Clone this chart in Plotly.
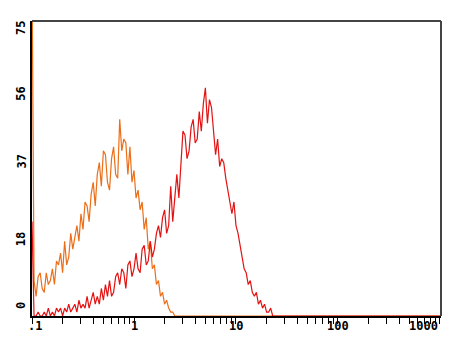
import math
import plotly.graph_objects as go

# Histogram channels: log10 start and bin width (decades)
LOG_START = -1.0
LOG_STEP = 0.02

orange_counts = [
    90,
    9, 5, 10, 11, 7, 6, 11, 8,
    9, 12, 8, 14, 13,
    16, 11, 19, 13, 15,
    21, 17, 20, 23, 19,
    26, 22, 29, 28, 24,
    31, 34, 28, 36, 39,
    33, 42, 41, 34, 32,
    40, 43, 36, 35, 50,
    42, 45, 44, 36, 43,
    34, 37, 30, 32, 27,
    29, 22, 25, 17, 19,
    12, 13, 8, 9, 5,
    6, 3, 4, 2, 1,
    1, 0,
]

red_counts = [
    24,
    0, 0, 1, 0, 0, 1, 0, 2, 0, 1, 0, 2, 1, 2, 0,
    2, 1, 3, 1, 2, 3, 1, 4, 2, 3,
    2, 5, 2, 4, 6, 3, 5,
    3, 7, 4, 8, 5,
    9, 5, 6, 10, 11,
    8, 12, 11, 7, 13,
    14, 10, 12, 16, 12,
    11, 17, 18, 13, 14,
    19, 15, 17, 21, 23,
    20, 25, 27, 21, 23,
    33, 24, 31, 36, 30,
    39, 47, 46, 40, 42,
    48, 50, 44, 45, 52,
    47, 54, 58, 49, 55,
    53, 47, 41, 45, 38,
    40, 39, 35, 32, 30,
    26, 29, 23, 21, 18,
    15, 12, 11, 8, 9,
    6, 5, 6, 3, 4,
    2, 3, 1, 1, 2,
    0, 0,
]

x_tick_vals = [0.1, 1, 10, 100, 1000]
x_tick_text = [".1", "1", "10", "100", "1000"]
y_tick_vals = [0, 18.75, 37.5, 56.25, 75]
y_tick_text = ["0", "18", "37", "56", "75"]

ORANGE = "rgb(236,110,24)"
RED = "rgb(228,18,18)"
FONT = dict(family="DejaVu Sans Mono", size=12, color="black", weight="bold")


def series_xy(counts):
    xs = [10 ** (LOG_START + i * LOG_STEP) for i in range(len(counts))]
    xs.append(1024)
    ys = list(counts) + [0]
    return xs, ys


fig = go.Figure()
ox, oy = series_xy(orange_counts)
rx, ry = series_xy(red_counts)
fig.add_trace(go.Scatter(x=ox, y=oy, mode="lines", line=dict(color=ORANGE, width=1.2, shape="linear"),
                         hoverinfo="skip"))
fig.add_trace(go.Scatter(x=rx, y=ry, mode="lines", line=dict(color=RED, width=1.2, shape="linear"),
                         hoverinfo="skip"))

minor_vals = [d * 10 ** e for e in range(-1, 3) for d in range(2, 10)]

fig.update_layout(
    width=450, height=340,
    margin=dict(l=24, r=17, t=13, b=32, autoexpand=False),
    paper_bgcolor="white", plot_bgcolor="white",
    showlegend=False,
    xaxis=dict(type="log", range=[-1, 3.01], showgrid=False, zeroline=False,
               showline=True, linecolor="black", linewidth=2,
               ticks="outside", ticklen=6, tickcolor="black", tickwidth=1,
               tickvals=x_tick_vals, showticklabels=False,
               minor=dict(tickvals=minor_vals, ticks="outside", ticklen=6,
                          tickcolor="black", tickwidth=1, showgrid=False)),
    yaxis=dict(range=[0, 75], showgrid=False, zeroline=False,
               showline=True, linecolor="black", linewidth=2,
               ticks="", showticklabels=False),
)

# top and right frame lines
fig.add_shape(type="line", xref="paper", yref="paper", x0=0, x1=1, y0=1, y1=1,
              line=dict(color="#444", width=2))
fig.add_shape(type="line", xref="paper", yref="paper", x0=1, x1=1, y0=0, y1=1,
              line=dict(color="#444", width=2))

# x tick labels (annotation x on a log axis is given in log10 units)
for v, t in zip(x_tick_vals, x_tick_text):
    anchor = "right" if v == 1000 else "center"
    xs = 3 if v == 0.1 else 0
    fig.add_annotation(x=math.log10(v), y=0, xref="x", yref="paper", text=t, showarrow=False,
                       xanchor=anchor, yanchor="top", yshift=-1, xshift=xs, font=FONT)

# y tick labels (rotated)
yshifts = [10, 3, 7, 1, -7]
for v, t, s in zip(y_tick_vals, y_tick_text, yshifts):
    fig.add_annotation(x=0, y=v, xref="paper", yref="y", text=t, showarrow=False,
                       textangle=-90, xanchor="center", yanchor="middle",
                       xshift=-11, yshift=s, font=FONT)

fig.write_html("out.html")
